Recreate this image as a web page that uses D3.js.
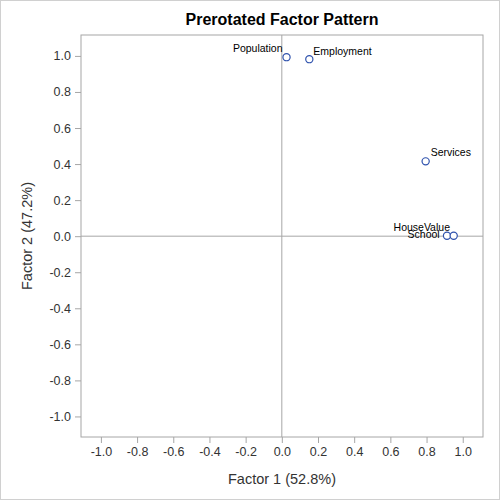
<!DOCTYPE html>
<html>
<head>
<meta charset="utf-8">
<script src="https://cdn.jsdelivr.net/npm/d3@7"></script>
<style>
  body { margin: 0; background: #fff; }
  svg { font-family: "Liberation Sans", Arial, sans-serif; }
</style>
</head>
<body>
<div id="chart"></div>
<script>
// factor loadings
const variables = ["Population", "Employment", "Services", "HouseValue", "School"];
const factor1 = [0.026, 0.152, 0.795, 0.913, 0.950];
const factor2 = [0.993, 0.982, 0.415, 0.002, 0.002];
const ticks = [-1.0, -0.8, -0.6, -0.4, -0.2, 0.0, 0.2, 0.4, 0.6, 0.8, 1.0];

// label placement relative to the marker: [dx, dy, anchor]
const labelPos = {
    Population: [-4, -5, "end"],
    Employment: [4, -4, "start"],
    Services: [5, -5, "start"],
    HouseValue: [3, -5, "end"],
    School: [-14, 2, "end"]
}

const width = 500;
const height = 500;
const margin = { top: 35, right: 17, bottom: 63, left: 81 };

let svg = d3.select("#chart")
            .append("svg")
                .attr("width", width)
                .attr("height", height)

// outer border
svg.append("rect")
    .attr("x", 0.5).attr("y", 0.5)
    .attr("width", width - 1).attr("height", height - 1)
    .attr("fill", "none")
    .attr("stroke", "#d0d0d0")

let x = d3.scaleLinear()
    .domain([-1.11, 1.112])
    .range([margin.left, width - margin.right])

let y = d3.scaleLinear()
    .domain([-1.114, 1.116])
    .range([height - margin.bottom, margin.top])

const axisColor = "#a6a6a6";
const fmt = d => d3.format(".1f")(d).replace("\u2212", "-");

// reference lines through origin
svg.append("line")
    .attr("x1", x(0)).attr("x2", x(0))
    .attr("y1", margin.top).attr("y2", height - margin.bottom)
    .attr("stroke", axisColor)
svg.append("line")
    .attr("x1", margin.left).attr("x2", width - margin.right)
    .attr("y1", y(0)).attr("y2", y(0))
    .attr("stroke", axisColor)

// frame
svg.append("rect")
    .attr("x", margin.left).attr("y", margin.top)
    .attr("width", width - margin.left - margin.right)
    .attr("height", height - margin.top - margin.bottom)
    .attr("fill", "none")
    .attr("stroke", axisColor)

let xAxis = svg.append("g")
    .attr("transform", `translate(0, ${height - margin.bottom})`)
    .call(d3.axisBottom(x).tickValues(ticks).tickFormat(fmt).tickSize(6).tickPadding(4))
let yAxis = svg.append("g")
    .attr("transform", `translate(${margin.left}, 0)`)
    .call(d3.axisLeft(y).tickValues(ticks).tickFormat(fmt).tickSize(6).tickPadding(4))

for (const ax of [xAxis, yAxis]) {
    ax.select(".domain").remove()
    ax.selectAll(".tick line").attr("stroke", axisColor)
    ax.selectAll(".tick text")
        .attr("fill", "#333")
        .attr("font-size", "12.5px")
        .attr("font-family", "'Liberation Sans', Arial, sans-serif")
}

// title and axis labels
svg.append("text")
    .attr("x", (margin.left + width - margin.right) / 2)
    .attr("y", 25)
    .attr("text-anchor", "middle")
    .attr("font-size", "16px")
    .attr("font-weight", "bold")
    .attr("fill", "#000")
    .text("Prerotated Factor Pattern")

svg.append("text")
    .attr("x", (margin.left + width - margin.right) / 2)
    .attr("y", 484)
    .attr("text-anchor", "middle")
    .attr("font-size", "14.5px")
    .attr("fill", "#333")
    .text("Factor 1 (52.8%)")

svg.append("text")
    .attr("transform", `translate(32, ${(margin.top + height - margin.bottom) / 2}) rotate(-90)`)
    .attr("text-anchor", "middle")
    .attr("font-size", "14.5px")
    .attr("fill", "#333")
    .text("Factor 2 (47.2%)")

// points
svg.selectAll("circle.pt")
    .data(variables)
    .enter()
    .append("circle")
        .attr("class", "pt")
        .attr("cx", (d, i) => x(factor1[i]))
        .attr("cy", (d, i) => y(factor2[i]))
        .attr("r", 3.6)
        .attr("fill", "#fff")
        .attr("stroke", "#2f52ad")
        .attr("stroke-width", 1.2)

svg.selectAll("text.lbl")
    .data(variables)
    .enter()
    .append("text")
        .attr("class", "lbl")
        .attr("x", (d, i) => x(factor1[i]) + labelPos[d][0])
        .attr("y", (d, i) => y(factor2[i]) + labelPos[d][1])
        .attr("text-anchor", d => labelPos[d][2])
        .attr("font-size", "10.5px")
        .attr("fill", "#000")
        .text(d => d)
</script>
</body>
</html>
